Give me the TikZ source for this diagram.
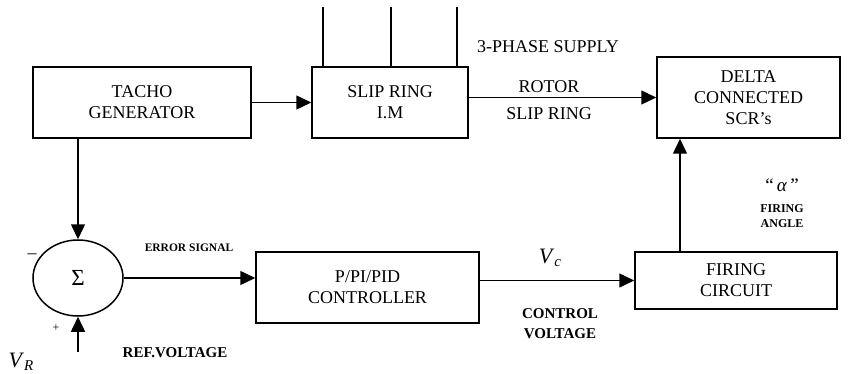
\documentclass[tikz,border=0pt]{standalone}
\usepackage{fontspec}
\setmainfont{Liberation Serif}
\usepackage{tikz}
\usetikzlibrary{
  arrows.meta,
  positioning,
  shapes.geometric,
  calc
}
\usepackage{xcolor}
\definecolor{inkblack}{RGB}{0,0,0}

\tikzset{
  block/.style={draw=inkblack, line width=1.5pt, rectangle, align=center,
    font=\fontsize{18}{21}\selectfont, inner sep=0pt},
  flow/.style={line width=1.5pt, -{Triangle[length=15pt,width=14pt]}},
  wire/.style={line width=1.5pt},
  tag/.style={font=\fontsize{18}{21}\selectfont, align=center},
  boldtag/.style={font=\bfseries\fontsize{12}{15}\selectfont, align=center}
}

\begin{document}
\begin{tikzpicture}[x=1pt, y=-1pt]
  \useasboundingbox (0,0) rectangle (848,374);

  % Blocks
  \node[block, minimum width=218pt, minimum height=71pt] (tacho) at (142,102.5)
    {TACHO\\GENERATOR};
  \node[block, minimum width=156pt, minimum height=71pt] (slip) at (390,102.5)
    {SLIP RING\\I.M};
  \node[block, minimum width=183pt, minimum height=81pt] (delta) at (748.5,97.5)
    {DELTA\\CONNECTED\\SCR's};
  \node[block, minimum width=223pt, minimum height=71pt] (ctrl) at (367.5,287.5)
    {P/PI/PID\\CONTROLLER};
  \node[block, minimum width=202pt, minimum height=57pt] (fire) at (736,280.5)
    {FIRING\\CIRCUIT};

  % Summing point
  \node[draw=inkblack, line width=1.5pt, ellipse, minimum width=90pt,
    minimum height=76pt, inner sep=0pt, font=\fontsize{23}{23}\selectfont]
    (sum) at (78,278) {Σ};

  % 3-phase supply lines
  \foreach \dx [count=\i] in {-67,1,67}{
    \coordinate (sup\i) at ($(slip.north)+(\dx,-59)$);
    \draw[wire] (sup\i) -- (sup\i |- slip.north);
  }
  \coordinate (ref) at (78,352);

  % Connections
  \draw[flow] (tacho.east) -- (tacho.east -| slip.west);
  \draw[flow] ([yshift=5pt]slip.east) -- (delta.west);
  \draw[flow] (sum.north |- tacho.south) -- (sum.north);
  \draw[flow] (ref) -- (sum.south);
  \draw[flow] (sum.east) -- (sum.east -| ctrl.west);
  \draw[flow] (ctrl.east |- fire.west) -- (fire.west);
  \draw[flow] ([xshift=-56pt]fire.north) -- ([xshift=-56pt]fire.north |- delta.south);

  % Labels
  \node[tag] (supply) at (548,47) {3-PHASE SUPPLY};
  \node[tag] (rotor) at (549,87) {ROTOR};
  \node[tag] (slipr) at (549,114) {SLIP RING};
  \node[boldtag, font=\bfseries\fontsize{11.5}{14}\selectfont] (err) at (189,248)
    {ERROR SIGNAL};
  \node[boldtag, font=\bfseries\fontsize{15}{18}\selectfont] (refv) at (175,353)
    {REF.VOLTAGE};
  \node[tag, font=\fontsize{22}{22}\selectfont] (vr) at (21,362)
    {\textit{V}\raisebox{-0.35ex}{\fontsize{15}{15}\selectfont\textit{R}}};
  \node[tag] (minus) at (32,256) {–};
  \node[tag, font=\fontsize{12}{12}\selectfont] (plus) at (56,328) {+};
  \node[tag, font=\fontsize{22}{22}\selectfont] (vc) at (550,258)
    {\textit{V}\raisebox{-0.35ex}{\fontsize{15}{15}\selectfont\textit{c}}};
  \node[boldtag, font=\bfseries\fontsize{15}{20}\selectfont] (cv) at (560,324)
    {CONTROL\\VOLTAGE};
  \node[tag, font=\fontsize{19}{21}\selectfont] (alpha) at (782,185)
    {“\,\textit{α}\,”};
  \node[boldtag, font=\bfseries\fontsize{12}{15}\selectfont] (fa) at (782,216)
    {FIRING\\ANGLE};
\end{tikzpicture}
\end{document}
